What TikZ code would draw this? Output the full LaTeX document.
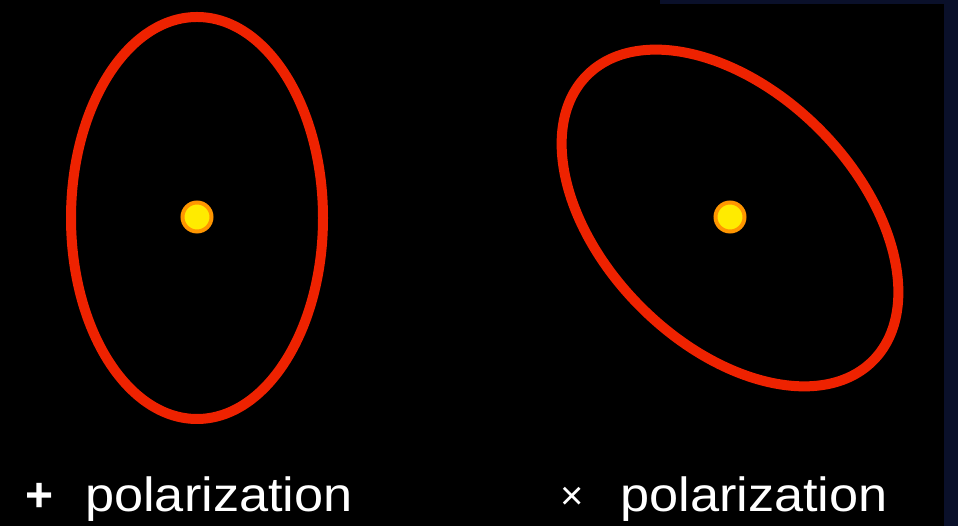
\documentclass[tikz,border=0pt]{standalone}
\usepackage{fontspec}
\setmainfont{Liberation Sans}
\definecolor{orbitred}{RGB}{238,34,0}
\definecolor{dotyellow}{RGB}{255,235,0}
\definecolor{dotorange}{RGB}{255,150,0}
\definecolor{navy}{RGB}{10,16,42}
\tikzset{
  orbit/.style={draw=orbitred, line width=10pt},
  mass/.style={circle, fill=dotyellow, draw=dotorange, line width=4pt, minimum size=29pt, inner sep=0pt},
  label/.style={text=white, anchor=base west, inner sep=0pt, font=\fontsize{48}{50}\selectfont},
}
\begin{document}
\begin{tikzpicture}[x=1pt,y=1pt]
\fill[black] (0,0) rectangle (958,526);
\useasboundingbox (0,0) rectangle (958,526);
\fill[navy] (944,0) rectangle (958,526);
\fill[navy] (660,522) rectangle (958,526);
% orbits
\coordinate (cl) at (197,308);
\coordinate (cr) at (730,308);
\draw[orbit] (cl) ellipse [x radius=126, y radius=201];
\draw[orbit, rotate around={-45:(cr)}] (cr) ellipse [x radius=202, y radius=126];
% central masses
\node[mass] (ml) at (197,309) {};
\node[mass] (mr) at (730,309) {};
% labels
\node[label] (pl) at (25,14) {\textbf{+}};
\node[label] (tl) at (85,14) {\scalebox{1.09}[1]{polarization}};
\node[label] (xr) at (560,14) {\raisebox{2pt}{\fontsize{40}{40}\selectfont ×}};
\node[label] (tr) at (620,14) {\scalebox{1.09}[1]{polarization}};
\end{tikzpicture}
\end{document}
